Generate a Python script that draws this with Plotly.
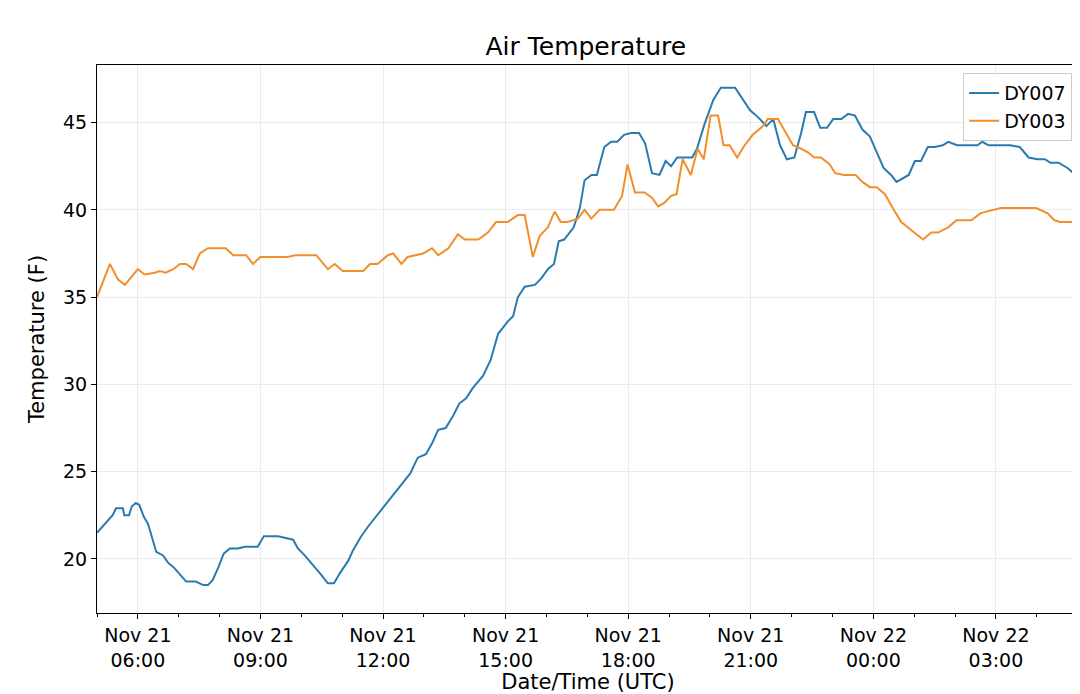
import pandas as pd
import plotly.graph_objects as go

# DY007 (lecturas aproximadas)
t007 = ['2018-11-21 05:00','05:09','05:16','05:23','05:28','05:38','05:40','05:47','05:51','05:57',
        '06:02','06:09','06:15','06:22','06:27','06:37','06:44','06:53','07:02','07:11','07:25','07:36',
        '07:43','07:50','07:58','08:06','08:15','08:27','08:37','08:56','09:05','09:26','09:48','09:55',
        '10:05','10:21','10:29','10:39','10:48','10:57','11:09','11:16','11:28','11:39','11:53','12:09',
        '12:25','12:40','12:51','13:03','13:13','13:21','13:32','13:43','13:52','14:02','14:12','14:27',
        '14:38','14:49','15:03','15:11','15:18','15:28','15:43','15:53','16:02','16:11','16:18','16:26',
        '16:40','16:49','16:56','17:06','17:14','17:25','17:35','17:44','17:54','18:04','18:16','18:25',
        '18:35','18:46','18:55','19:03','19:12','19:34','19:41','19:52','20:05','20:16','20:37','20:49',
        '20:59','21:11','21:23','21:33','21:43','21:53','22:04','22:14','22:21','22:33','22:42','22:52',
        '23:01','23:13','23:23','23:33','23:44','23:55','+00:06','+00:15','+00:26','+00:34','+00:52',
        '+01:01','+01:10','+01:20','+01:30','+01:42','+01:50','+02:03','+02:33','+02:40','+02:49',
        '+03:21','+03:35','+03:48','+04:01','+04:12','+04:20','+04:32','+04:45','+04:54','+05:02']
v007 = [21.5,21.9,22.2,22.5,22.9,22.9,22.5,22.5,23.0,23.2,23.1,22.4,22.0,21.1,20.4,20.2,19.8,19.5,
        19.1,18.7,18.7,18.5,18.5,18.8,19.5,20.3,20.6,20.6,20.7,20.7,21.3,21.3,21.1,20.6,20.2,19.5,
        19.1,18.6,18.6,19.2,19.9,20.5,21.3,21.9,22.6,23.4,24.2,24.9,25.8,26.0,26.7,27.4,27.5,28.2,
        28.9,29.2,29.8,30.5,31.4,32.9,33.6,33.9,35.0,35.6,35.7,36.1,36.6,36.9,38.2,38.3,39.0,40.1,
        41.7,42.0,42.0,43.6,43.9,43.9,44.3,44.4,44.4,43.8,42.1,42.0,42.8,42.5,43.0,43.0,43.5,44.9,
        46.3,47.0,47.0,46.3,45.7,45.3,44.8,45.2,43.7,42.9,43.0,44.4,45.6,45.6,44.7,44.7,45.2,45.2,
        45.5,45.4,44.6,44.2,43.2,42.4,42.0,41.6,42.0,42.8,42.8,43.6,43.6,43.7,43.9,43.7,43.7,43.9,
        43.7,43.7,43.6,43.0,42.9,42.9,42.7,42.7,42.4,42.1,42.0]

# DY003
t003 = ['05:00','05:19','05:31','05:41','06:00','06:10','06:25','06:32','06:41','06:52','07:02',
        '07:11','07:21','07:31','07:43','08:09','08:20','08:39','08:49','09:00','09:40','09:51','10:22',
        '10:32','10:39','10:49','11:01','11:31','11:41','11:52','12:07','12:15','12:27','12:36','12:48',
        '12:59','13:12','13:21','13:36','13:50','14:00','14:20','14:34','14:46','15:03','15:18','15:28',
        '15:40','15:50','16:02','16:12','16:21','16:31','16:46','16:56','17:06','17:18','17:39','17:51',
        '17:59','18:10','18:24','18:35','18:44','18:53','19:03','19:11','19:20','19:32','19:42','19:51',
        '20:01','20:12','20:20','20:29','20:40','20:51','21:03','21:18','21:25','21:40','21:52','22:02',
        '22:14','22:24','22:33','22:43','22:56','23:04','23:17','23:34','23:44','23:55','+00:05',
        '+00:17','+00:30','+00:41','+01:00','+01:13','+01:25','+01:35','+01:50','+02:02','+02:24',
        '+02:37','+02:46','+03:07','+03:18','+03:48','+03:59','+04:16','+04:26','+04:34','+04:52','+05:02']
v003 = [35.0,36.9,36.0,35.7,36.6,36.3,36.4,36.5,36.4,36.6,36.9,36.9,36.6,37.5,37.8,37.8,37.4,37.4,
        36.9,37.3,37.3,37.4,37.4,36.9,36.6,36.9,36.5,36.5,36.9,36.9,37.4,37.5,36.9,37.3,37.4,37.5,
        37.8,37.4,37.8,38.6,38.3,38.3,38.7,39.3,39.3,39.7,39.7,37.3,38.5,39.0,39.9,39.3,39.3,39.5,
        40.0,39.5,40.0,40.0,40.8,42.6,41.0,41.0,40.7,40.2,40.4,40.8,40.9,42.9,42.0,43.5,42.9,45.4,
        45.4,43.7,43.7,43.0,43.7,44.3,44.8,45.2,45.2,44.4,43.7,43.5,43.3,43.0,43.0,42.6,42.1,42.0,
        42.0,41.6,41.3,41.3,40.9,40.0,39.3,38.7,38.3,38.7,38.7,39.0,39.4,39.4,39.8,39.9,40.1,40.1,
        40.1,40.1,39.8,39.4,39.3,39.3,39.1]

def to_ts(lst):
    out = []
    for s in lst:
        s = s.replace('2018-11-21 ', '')
        day = '2018-11-22' if s.startswith('+') else '2018-11-21'
        out.append(pd.Timestamp(f"{day} {s.lstrip('+')}"))
    return out

tick_vals = ['2018-11-21 06:00','2018-11-21 09:00','2018-11-21 12:00','2018-11-21 15:00',
             '2018-11-21 18:00','2018-11-21 21:00','2018-11-22 00:00','2018-11-22 03:00']
tick_text = ['Nov 21<br>06:00','Nov 21<br>09:00','Nov 21<br>12:00','Nov 21<br>15:00',
             'Nov 21<br>18:00','Nov 21<br>21:00','Nov 22<br>00:00','Nov 22<br>03:00']

fig = go.Figure([
    go.Scatter(x=to_ts(t007), y=v007, mode='lines', name='DY007', line=dict(color='#2a7ab0', width=2)),
    go.Scatter(x=to_ts(t003), y=v003, mode='lines', name='DY003', line=dict(color='#f28e2b', width=2)),
])

axis = dict(showline=True, linecolor='black', linewidth=1, mirror=True, ticks='outside',
            tickcolor='black', ticklen=5, gridcolor='#ebebeb', zeroline=False, automargin=False,
            tickfont=dict(size=19, color='black'), title_font=dict(size=21, color='black'))

fig.update_layout(
    width=1080, height=694,
    font=dict(family='DejaVu Sans', color='black'),
    title=dict(text='Air Temperature', x=0.535, xanchor='center', yref='container', y=0.945,
               yanchor='middle', font=dict(size=25)),
    plot_bgcolor='white', paper_bgcolor='white',
    margin=dict(l=89, r=9, t=57, b=89),
    xaxis=dict(axis, range=['2018-11-21 05:00', '2018-11-22 05:02'], tickvals=tick_vals,
               ticktext=tick_text, title_text='Date/Time (UTC)', title_standoff=4,
               minor=dict(dtick=3600000, ticks='outside', ticklen=3, tickcolor='black', showgrid=False)),
    yaxis=dict(axis, range=[16.9, 48.3], tickvals=[20, 25, 30, 35, 40, 45],
               title_text='Temperature (F)', title_standoff=12),
    legend=dict(x=0.993, y=0.985, xanchor='right', yanchor='top', bgcolor='white',
                bordercolor='#cccccc', borderwidth=1, font=dict(size=19)),
)

fig.write_html("out.html")
